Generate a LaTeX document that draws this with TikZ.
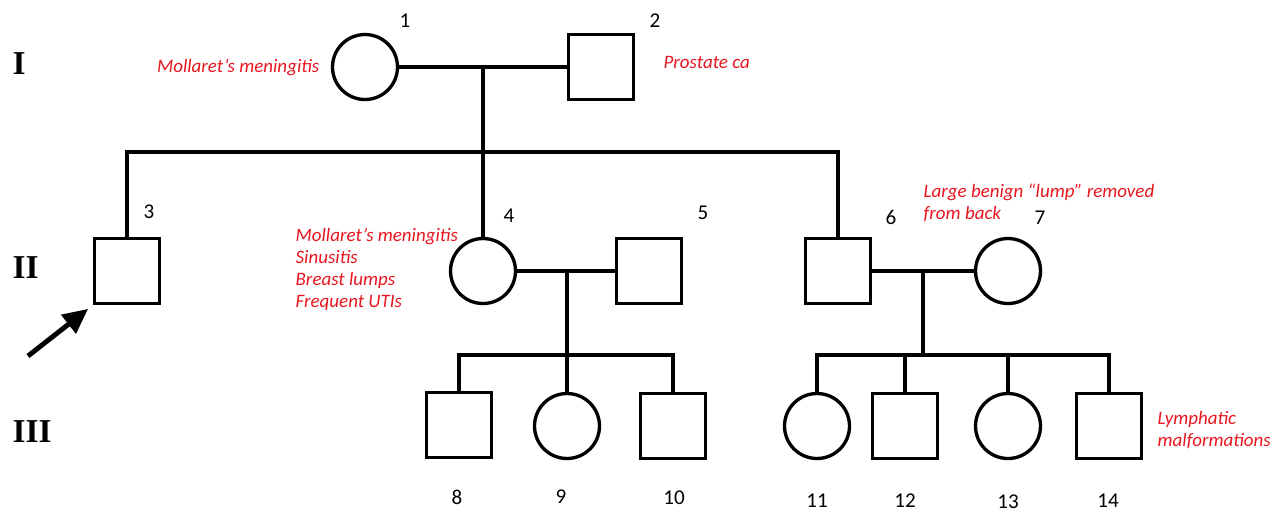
\documentclass[tikz,border=0pt]{standalone}
\usepackage{fontspec}
\setmainfont{Carlito}
\newfontfamily\genfont{Liberation Serif}
\usetikzlibrary{arrows.meta,positioning}
\definecolor{notered}{RGB}{232,22,30}

\begin{document}
\begin{tikzpicture}[
    x=0.02cm, y=-0.02cm,
    line width=1.9pt,
    male/.style={rectangle, draw, minimum size=1.30cm, inner sep=0pt},
    female/.style={circle, draw, minimum size=1.30cm, inner sep=0pt},
    num/.style={font=\fontsize{12}{14}\selectfont},
    note/.style={text=notered, align=left, inner sep=0pt, font=\fontsize{10.8}{12.5}\selectfont\itshape},
    gen/.style={anchor=west, inner sep=0pt, font=\genfont\bfseries\fontsize{19}{20}\selectfont},
    proband/.style={-{Triangle[length=0.5cm,width=0.46cm]}, line width=2.8pt, shorten >=0.12cm}
]
    \useasboundingbox (0,0) rectangle (1278,512);

    % generations
    \node[gen] (gI) at (11,64) {I};
    \node[gen] (gII) at (11,268) {II};
    \node[gen] (gIII) at (11,432) {III};

    % generation I
    \node[female] (n1) at (365,67) {};
    \node[male] (n2) at (601,67) {};
    \node[num] (l1) at (405,21) {1};
    \node[num] (l2) at (655,21) {2};
    \node[note, anchor=east] (d1) at (321,68) {Mollaret’s meningitis};
    \node[note, anchor=west] (d2) at (662,62) {Prostate ca};

    % generation II
    \node[male] (n3) at (127,271) {};
    \node[female] (n4) at (483,271) {};
    \node[male] (n5) at (649,271) {};
    \node[male] (n6) at (838,271) {};
    \node[female] (n7) at (1008,271) {};
    \node[num] (l3) at (149,212) {3};
    \node[num] (l4) at (509,216) {4};
    \node[num] (l5) at (703,213) {5};
    \node[num] (l6) at (891,217) {6};
    \node[num] (l7) at (1040,218) {7};
    \node[note, anchor=west] (d4) at (294,269) {Mollaret’s meningitis\\Sinusitis\\Breast lumps\\Frequent UTIs};
    \node[note, anchor=west] (d7) at (922,203) {Large benign “lump” removed\\from back};

    % generation III
    \node[male] (n8) at (459,425) {};
    \node[female] (n9) at (567,426) {};
    \node[male] (n10) at (673,426) {};
    \node[female] (n11) at (817,426) {};
    \node[male] (n12) at (905,426) {};
    \node[female] (n13) at (1008,426) {};
    \node[male] (n14) at (1109,426) {};
    \node[num] (l8) at (457,497) {8};
    \node[num] (l9) at (561,497) {9};
    \node[num] (l10) at (674,498) {10};
    \node[num] (l11) at (817,501) {11};
    \node[num] (l12) at (905,501) {12};
    \node[num] (l13) at (1008,502) {13};
    \node[num] (l14) at (1108,501) {14};
    \node[note, anchor=west] (d14) at (1156,430) {Lymphatic\\malformations};

    % marriages and sibships
    \coordinate (m12) at (483,67);
    \coordinate (s1) at (483,152);
    \draw (n1) -- (n2);
    \draw (m12) -- (n4);
    \draw (n3) |- (s1) -| (n6);

    \coordinate (m45) at (567,271);
    \coordinate (s2) at (567,355);
    \draw (n4) -- (n5);
    \draw (m45) -- (n9);
    \draw (n8) |- (s2) -| (n10);

    \coordinate (m67) at (923,271);
    \coordinate (s3) at (923,355);
    \draw (n6) -- (n7);
    \draw (m67) -- (s3);
    \draw (n11) |- (s3) -| (n14);
    \draw (n12) -- (n12 |- s3);
    \draw (n13) -- (n13 |- s3);

    % proband
    \coordinate (pa) at (28,356);
    \draw[proband] (pa) -- (n3.south west);
\end{tikzpicture}
\end{document}
